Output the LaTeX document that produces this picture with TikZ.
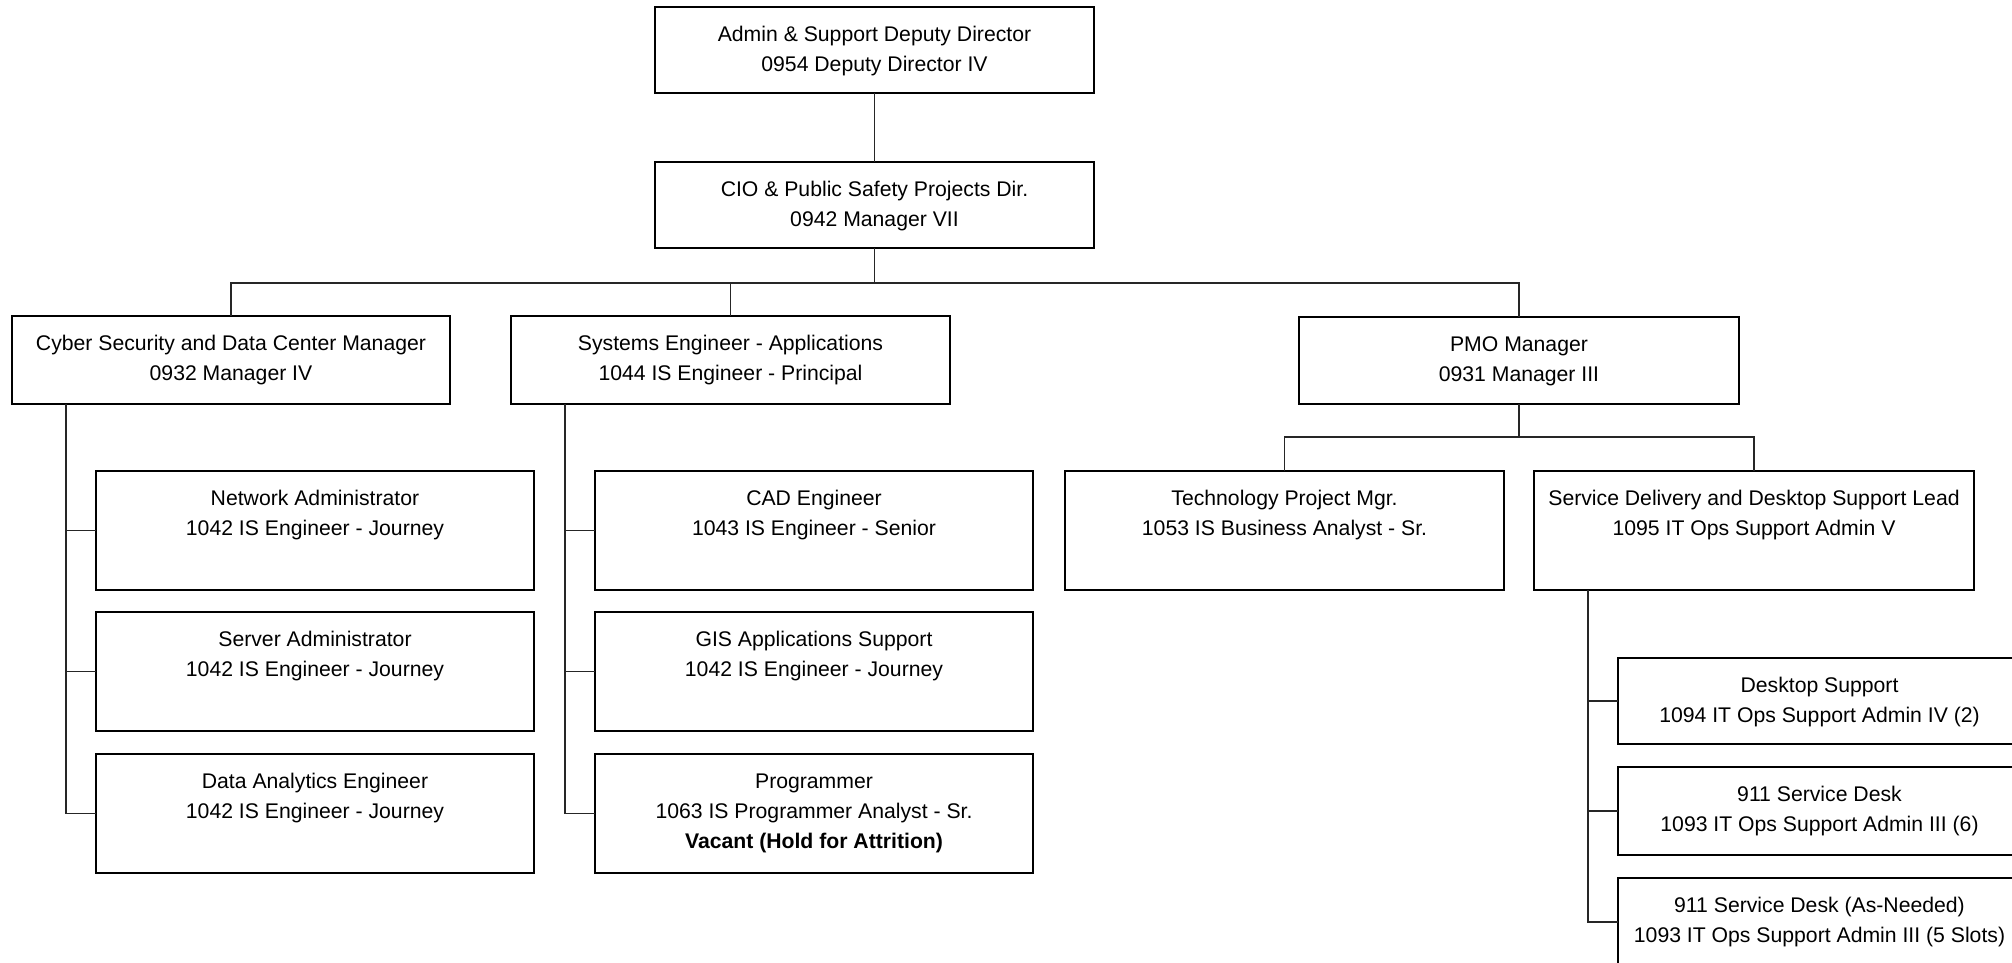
\documentclass[tikz,border=0pt]{standalone}
\usepackage{fontspec}
\setmainfont{Liberation Sans}
\begin{document}
\begin{tikzpicture}[x=0.5pt,y=-0.5pt,
  box/.style={draw=black, line width=1.1pt, fill=white, inner sep=0pt, outer sep=0pt},
  txt/.style={inner sep=0pt, align=center, anchor=north,
    font=\fontsize{10.6pt}{15pt}\selectfont},
  conn/.style={draw=black!85, line width=0.55pt}]

\useasboundingbox (0,0) rectangle (2012,963);
\clip (0,0) rectangle (2012,963);

% box with its text set from the top edge:
% name, left, top, right, bottom, text
\newcommand\orgbox[6]{%
  \node[box, minimum width={(#4-#2)*0.5pt}, minimum height={(#5-#3)*0.5pt}]
    (#1) at ({(#2+#4)/2},{(#3+#5)/2}) {};
  \node[txt] (#1-t) at ([yshift=-5pt]#1.north) {\rule{0pt}{12pt}#6};
}

% top levels
\orgbox{dep}{655}{7}{1094}{93}{Admin \& Support Deputy Director\\0954 Deputy Director IV}
\orgbox{cio}{655}{162}{1094}{248}{CIO \& Public Safety Projects Dir.\\0942 Manager VII}

% managers
\orgbox{cyber}{12}{316}{450}{404}{Cyber Security and Data Center Manager\\0932 Manager IV}
\orgbox{sys}{511}{316}{950}{404}{Systems Engineer - Applications\\1044 IS Engineer - Principal}
\orgbox{pmo}{1299}{317}{1739}{404}{PMO Manager\\0931 Manager III}

% cyber security staff
\orgbox{net}{96}{471}{534}{590}{Network Administrator\\1042 IS Engineer - Journey}
\orgbox{srv}{96}{612}{534}{731}{Server Administrator\\1042 IS Engineer - Journey}
\orgbox{dae}{96}{754}{534}{873}{Data Analytics Engineer\\1042 IS Engineer - Journey}

% systems engineering staff
\orgbox{cad}{595}{471}{1033}{590}{CAD Engineer\\1043 IS Engineer - Senior}
\orgbox{gis}{595}{612}{1033}{731}{GIS Applications Support\\1042 IS Engineer - Journey}
\orgbox{prg}{595}{754}{1033}{873}{Programmer\\1063 IS Programmer Analyst - Sr.\\\textbf{Vacant (Hold for Attrition)}}

% PMO staff
\orgbox{tpm}{1065}{471}{1504}{590}{Technology Project Mgr.\\1053 IS Business Analyst - Sr.}
\orgbox{sdl}{1534}{471}{1974}{590}{Service Delivery and Desktop Support Lead\\1095 IT Ops Support Admin V}

% service delivery staff
\orgbox{dsk}{1618}{658}{2021}{744}{Desktop Support\\1094 IT Ops Support Admin IV (2)}
\orgbox{sd}{1618}{767}{2021}{855}{911 Service Desk\\1093 IT Ops Support Admin III (6)}
\orgbox{sdn}{1618}{878}{2021}{966}{911 Service Desk (As-Needed)\\1093 IT Ops Support Admin III (5 Slots)}

% reporting lines
\coordinate (bus) at (874.5,283);
\coordinate (pbus) at (1519,437);
\draw[conn] (dep.south) -- (cio.north);
\draw[conn] (cio.south) -- (cio.south |- bus);
\draw[conn] (cyber.north) -- (cyber.north |- bus) -- (pmo.north |- bus) -- (pmo.north);
\draw[conn] (sys.north) -- (sys.north |- bus);

\draw[conn] (pmo.south) -- (pmo.south |- pbus);
\draw[conn] (tpm.north) -- (tpm.north |- pbus) -- (sdl.north |- pbus) -- (sdl.north);

\foreach \c in {net,srv,dae}
  \draw[conn] ([xshift=27pt]cyber.south west) |- (\c.west);
\foreach \c in {cad,gis,prg}
  \draw[conn] ([xshift=27pt]sys.south west) |- (\c.west);
\foreach \c in {dsk,sd,sdn}
  \draw[conn] ([xshift=27pt]sdl.south west) |- (\c.west);

\end{tikzpicture}
\end{document}
